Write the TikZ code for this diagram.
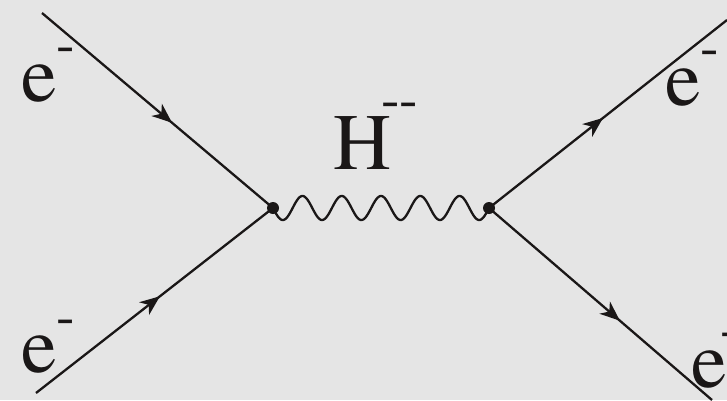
\documentclass[tikz,border=0pt]{standalone}
\usepackage{fontspec}
\newfontfamily\timesfont{TeX Gyre Termes}
\usetikzlibrary{arrows.meta,decorations.markings}
\definecolor{bg}{HTML}{E5E5E5}
\definecolor{ink}{HTML}{1A1717}
\tikzset{
  fermion/.style={draw=ink,line width=2.3pt,postaction={decorate},
    decoration={markings,mark=at position #1 with {\arrow[ink]{Stealth[length=20pt,width=16pt,inset=6pt]}}}},
  vertexdot/.style={circle,fill=ink,inner sep=0pt,minimum size=12pt},
  biglabel/.style={anchor=base west,inner sep=0pt,text=ink,font=\timesfont\fontsize{80}{80}\selectfont},
  minuslabel/.style={anchor=base west,inner sep=0pt,text=ink,font=\timesfont\fontsize{56}{56}\selectfont},
  boson/.style={draw=ink,line width=2.3pt}
}
\begin{document}
\begin{tikzpicture}[x=1pt,y=-1pt]
\fill[bg] (0,0) rectangle (727,400);
\useasboundingbox (0,0) rectangle (727,400);
\coordinate (a) at (42,13);
\coordinate (b) at (36,393);
\coordinate (c) at (727,20);
\coordinate (d) at (712,400);
\coordinate (v1) at (273,208);
\coordinate (v2) at (489,208);
\draw[fermion=0.563] (a) -- (v1);
\draw[fermion=0.523] (b) -- (v1);
\draw[fermion=0.479] (v2) -- (c);
\draw[fermion=0.587] (v2) -- (d);
\draw[boson] plot[domain=0:216,samples=300,smooth] ({273+\x},{208+12*sin(\x/39.2727*360)});
\node[vertexdot] (n1) at (v1) {};
\node[vertexdot] (n2) at (v2) {};
\node[biglabel] (la) at (21,101) {e};
\node[minuslabel] (ma) at (56,62.6) {-};
\node[biglabel] (lb) at (21,372) {e};
\node[minuslabel] (mb) at (56,334.6) {-};
\node[biglabel] (lc) at (665,105) {e};
\node[minuslabel] (mc) at (700,65.6) {-};
\node[biglabel] (ld) at (691,387) {e};
\node[minuslabel] (md) at (720,347.6) {-};
\node[biglabel] (lh) at (333.5,169) {H};
\node[minuslabel] (mh) at (381,117.6) {-\kern0pt-};
\end{tikzpicture}
\end{document}
